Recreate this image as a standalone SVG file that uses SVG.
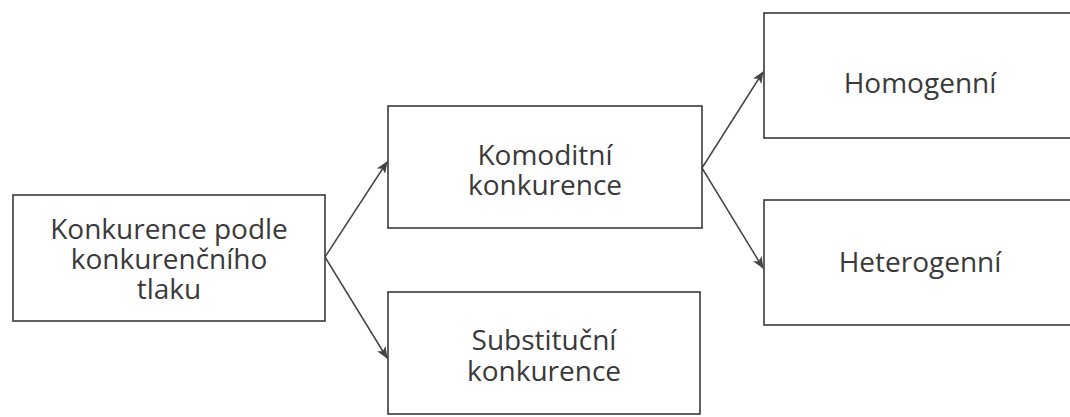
<svg xmlns="http://www.w3.org/2000/svg" width="1070" height="417" viewBox="0 0 1070 417">
<style>
.box{fill:#fff;stroke:#3a3a3a;stroke-width:1.6}
.t{font-family:"Open Sans","Noto Sans",sans-serif;font-size:28px;fill:#3a3a3a;text-anchor:middle}
.c{fill:none;stroke:#444;stroke-width:1.5}
</style>
<defs>
<marker id="ah" viewBox="0 0 12 10" refX="11" refY="5" markerWidth="12" markerHeight="10" markerUnits="userSpaceOnUse" orient="auto">
<path d="M0,0 L12,5 L0,10 L3,5 Z" fill="#444"/>
</marker>
</defs>
<rect width="1070" height="417" fill="#fff"/>
<g id="connectors">
<line class="c" x1="325" y1="257" x2="387" y2="162" marker-end="url(#ah)"/>
<line class="c" x1="325" y1="257" x2="387" y2="358" marker-end="url(#ah)"/>
<line class="c" x1="702" y1="168" x2="763" y2="72" marker-end="url(#ah)"/>
<line class="c" x1="702" y1="168" x2="763" y2="268" marker-end="url(#ah)"/>
</g>
<g id="root">
<rect class="box" x="13" y="195" width="312" height="126"/>
<text class="t" x="169" y="239">Konkurence podle</text>
<text class="t" x="169" y="269">konkurenčního</text>
<text class="t" x="169" y="299">tlaku</text>
</g>
<g id="komoditni">
<rect class="box" x="388" y="106" width="314" height="122"/>
<text class="t" x="545" y="165">Komoditní</text>
<text class="t" x="545" y="195">konkurence</text>
</g>
<g id="substitucni">
<rect class="box" x="388" y="292" width="312" height="122"/>
<text class="t" x="544" y="350">Substituční</text>
<text class="t" x="544" y="381">konkurence</text>
</g>
<g id="homogenni">
<rect class="box" x="764" y="13" width="330" height="125"/>
<text class="t" x="920" y="93">Homogenní</text>
</g>
<g id="heterogenni">
<rect class="box" x="764" y="200" width="330" height="125"/>
<text class="t" x="920" y="272">Heterogenní</text>
</g>
</svg>
